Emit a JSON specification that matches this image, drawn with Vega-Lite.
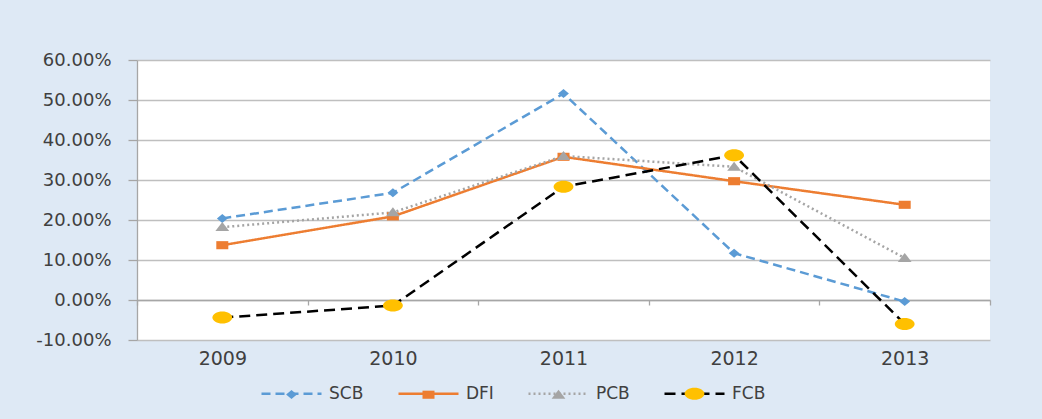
{
  "$schema": "https://vega.github.io/schema/vega-lite/v6.json",
  "width": 853,
  "height": 280,
  "autosize": {"type": "none"},
  "padding": {"left": 137, "top": 60, "right": 52, "bottom": 79},
  "background": "#DEE9F5",
  "config": {
    "view": {"fill": "#FFFFFF", "stroke": null},
    "font": "DejaVu Sans"
  },
  "data": {
    "values": [
      {"year": "2009", "series": "SCB", "ord": 1, "value": 0.204},
      {"year": "2010", "series": "SCB", "ord": 1, "value": 0.268},
      {"year": "2011", "series": "SCB", "ord": 1, "value": 0.516},
      {"year": "2012", "series": "SCB", "ord": 1, "value": 0.117},
      {"year": "2013", "series": "SCB", "ord": 1, "value": -0.004},
      {"year": "2009", "series": "DFI", "ord": 2, "value": 0.137},
      {"year": "2010", "series": "DFI", "ord": 2, "value": 0.209},
      {"year": "2011", "series": "DFI", "ord": 2, "value": 0.358},
      {"year": "2012", "series": "DFI", "ord": 2, "value": 0.297},
      {"year": "2013", "series": "DFI", "ord": 2, "value": 0.238},
      {"year": "2009", "series": "PCB", "ord": 3, "value": 0.182},
      {"year": "2010", "series": "PCB", "ord": 3, "value": 0.219},
      {"year": "2011", "series": "PCB", "ord": 3, "value": 0.36},
      {"year": "2012", "series": "PCB", "ord": 3, "value": 0.333},
      {"year": "2013", "series": "PCB", "ord": 3, "value": 0.105},
      {"year": "2009", "series": "FCB", "ord": 4, "value": -0.044},
      {"year": "2010", "series": "FCB", "ord": 4, "value": -0.014},
      {"year": "2011", "series": "FCB", "ord": 4, "value": 0.283},
      {"year": "2012", "series": "FCB", "ord": 4, "value": 0.362},
      {"year": "2013", "series": "FCB", "ord": 4, "value": -0.06}
    ]
  },
  "encoding": {
    "x": {
      "field": "year",
      "type": "ordinal",
      "scale": {"type": "band", "paddingInner": 0, "paddingOuter": 0},
      "axis": {
        "title": null,
        "orient": "bottom",
        "offset": -40,
        "tickBand": "extent",
        "grid": false,
        "domainColor": "#A6A6A6",
        "domainWidth": 1.3,
        "tickColor": "#A6A6A6",
        "tickWidth": 1.3,
        "tickSize": 5,
        "labelPadding": 44,
        "labelAngle": 0,
        "labelFont": "DejaVu Sans",
        "labelFontSize": 19,
        "labelColor": "#404040"
      }
    },
    "y": {
      "field": "value",
      "type": "quantitative",
      "scale": {"domain": [-0.1, 0.6], "nice": false, "zero": false},
      "axis": {
        "title": null,
        "values": [-0.1, 0, 0.1, 0.2, 0.3, 0.4, 0.5, 0.6],
        "labelExpr": "replace(format(datum.value, '.2%'), '−', '-')",
        "grid": true,
        "gridColor": "#BFBFBF",
        "gridWidth": 1.3,
        "domainColor": "#A6A6A6",
        "domainWidth": 1.3,
        "tickColor": "#A6A6A6",
        "tickWidth": 1.3,
        "tickSize": 9,
        "labelPadding": 17,
        "labelFont": "DejaVu Sans",
        "labelFontSize": 18,
        "labelColor": "#404040"
      }
    }
  },
  "layer": [
    {
      "mark": {"type": "line", "strokeWidth": 2.5},
      "encoding": {
        "color": {
          "field": "series",
          "type": "nominal",
          "scale": {"domain": ["SCB", "DFI", "PCB", "FCB"], "range": ["#5B9BD5", "#ED7D31", "#A5A5A5", "#000000"]},
          "legend": {
            "title": null, "orient": "none", "legendX": 123, "legendY": 302, "direction": "horizontal",
            "symbolType": "stroke", "symbolSize": 3600, "symbolStrokeWidth": 2.5,
            "labelFont": "DejaVu Sans", "labelFontSize": 17, "labelColor": "#404040",
            "labelOffset": 6, "columnPadding": 29, "padding": 0
          }
        },
        "strokeDash": {
          "field": "series",
          "type": "nominal",
          "scale": {"domain": ["SCB", "DFI", "PCB", "FCB"], "range": [[9, 5], [1, 0], [2, 3], [11, 6]]},
          "legend": {
            "title": null, "orient": "none", "legendX": 123, "legendY": 302, "direction": "horizontal",
            "symbolType": "stroke", "symbolSize": 3600, "symbolStrokeWidth": 2.5,
            "labelFont": "DejaVu Sans", "labelFontSize": 17, "labelColor": "#404040",
            "labelOffset": 6, "columnPadding": 29, "padding": 0
          }
        }
      }
    },
    {
      "mark": {"type": "point", "filled": true, "opacity": 1, "size": 3600},
      "encoding": {
        "fill": {
          "field": "series",
          "type": "nominal",
          "sort": {"field": "ord", "op": "min"},
          "scale": {"range": ["#5B9BD5", "#ED7D31", "#A5A5A5", "#FFC000"]},
          "legend": {
            "title": null, "orient": "none", "legendX": 123, "legendY": 302, "direction": "horizontal",
            "symbolSize": 3600, "symbolStrokeWidth": 2.5, "symbolStrokeColor": "transparent", "symbolOpacity": 1,
            "labelFont": "DejaVu Sans", "labelFontSize": 17, "labelColor": "transparent",
            "labelOffset": 6, "columnPadding": 29, "padding": 0
          }
        },
        "shape": {
          "field": "series",
          "type": "nominal",
          "sort": {"field": "ord", "op": "min"},
          "scale": {"range": [
            "M-1,0M1,0M0,-0.15L0.18,0L0,0.15L-0.18,0Z",
            "M-1,0M1,0M-0.2,-0.135H0.2V0.135H-0.2Z",
            "M-1,0M1,0M0,-0.17L0.23,0.13L-0.23,0.13Z",
            "M-1,0M1,0M-0.33,0A0.33,0.2,0,1,0,0.33,0A0.33,0.2,0,1,0,-0.33,0Z"
          ]},
          "legend": {
            "title": null, "orient": "none", "legendX": 123, "legendY": 302, "direction": "horizontal",
            "symbolSize": 3600, "symbolStrokeWidth": 2.5, "symbolStrokeColor": "transparent", "symbolOpacity": 1,
            "labelFont": "DejaVu Sans", "labelFontSize": 17, "labelColor": "transparent",
            "labelOffset": 6, "columnPadding": 29, "padding": 0
          }
        }
      }
    }
  ]
}
